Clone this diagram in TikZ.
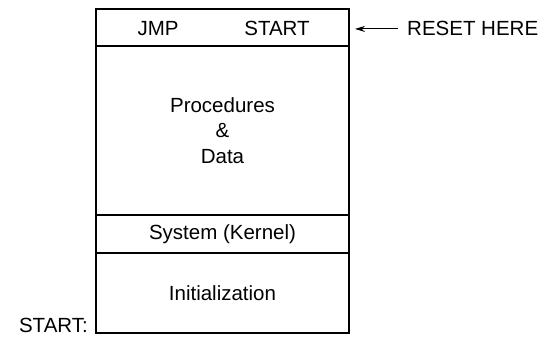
\documentclass[tikz,border=0pt]{standalone}
\usepackage{fontspec}
\setmainfont{Liberation Sans}
\usetikzlibrary{arrows.meta,positioning}

\tikzset{
  seg/.style={draw, line width=1.3pt, minimum width=253pt, outer sep=0pt, inner sep=0pt},
  lbl/.style={inner sep=0pt, font=\fontsize{20.5}{25.5}\selectfont}
}

\begin{document}
\begin{tikzpicture}[x=1pt,y=1pt]
\useasboundingbox (0,0) rectangle (544,-337);

% memory layout
\node[seg, minimum height=37pt] (hdr) at (222.5,-27.5) {};
\node[seg, minimum height=169pt, below=0pt of hdr, lbl, align=center] (proc) {Procedures\\\&\\Data};
\node[seg, minimum height=38pt, below=0pt of proc, lbl] (kern) {System (Kernel)};
\node[seg, minimum height=80pt, below=0pt of kern, lbl] (init) {Initialization};

\node[lbl, anchor=base] (jmp) at (158,-36) {JMP};
\node[lbl, anchor=base] (target) at (277,-36) {START};

% labels outside
\node[lbl, anchor=base west] (reset) at (407,-36) {RESET HERE};
\node[lbl, anchor=base east] (entry) at (88,-332) {START:};

\draw[line width=0.9pt, -{Stealth[length=10pt,width=6pt]}] ([xshift=-9pt]reset.west) -- ([xshift=6pt]reset.west -| hdr.east);
\end{tikzpicture}
\end{document}
